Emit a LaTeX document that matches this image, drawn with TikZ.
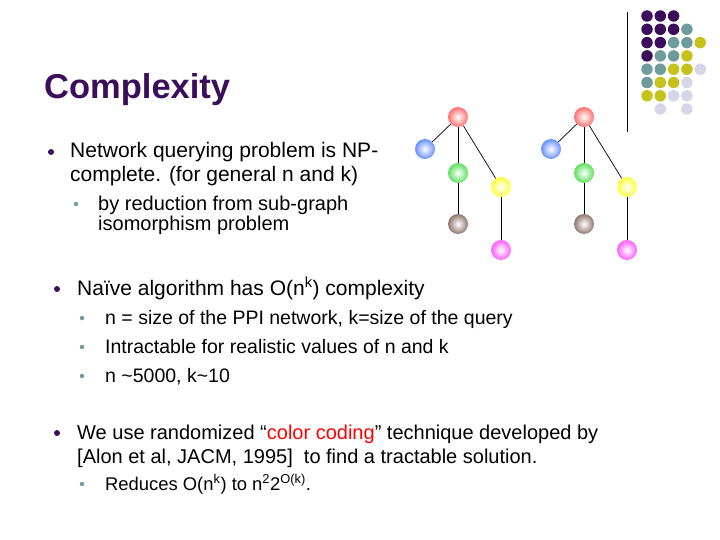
\documentclass[tikz,border=0pt]{standalone}
\usepackage{fontspec}
\setmainfont{Liberation Sans}
\definecolor{pur}{HTML}{3A0E5A}
\definecolor{tea}{HTML}{6F9B9B}
\definecolor{yel}{HTML}{C6C21C}
\definecolor{lav}{HTML}{D6D6E8}
\definecolor{cred}{HTML}{FF7070}
\definecolor{cblue}{HTML}{6A90FF}
\definecolor{cgreen}{HTML}{60E060}
\definecolor{cyel}{HTML}{FFFF40}
\definecolor{cbrown}{HTML}{907870}
\definecolor{cmag}{HTML}{FF60FF}
\begin{document}
\begin{tikzpicture}[x=1pt,y=-1pt,
  dot/.style={circle,inner sep=0pt,minimum size=11.5pt,fill=#1},
  ball/.style={circle,inner sep=0pt,minimum size=20pt,inner color=white,outer color=#1},
  t1/.style={anchor=base west,inner sep=0pt,font=\fontsize{21}{24}\selectfont,align=left},
  t2/.style={anchor=base west,inner sep=0pt,font=\fontsize{19.5}{20}\selectfont,align=left},
  b1/.style={circle,inner sep=0pt,minimum size=6pt,fill=pur},
  b2/.style={circle,inner sep=0pt,minimum size=4.5pt,fill=tea},
  edge/.style={draw,line width=0.7pt}]
\useasboundingbox (0,0) rectangle (720,540);
\node[anchor=base west,inner sep=0pt,text=pur,font=\fontsize{34.5}{38}\selectfont\bfseries] (title) at (44,99) {Complexity};
\coordinate (vl1) at (627,12); \coordinate (vl2) at (627,132);
\draw[line width=0.8pt] (vl1) -- (vl2);
% dots
\foreach \r/\row in {0/{pur,pur,pur},1/{pur,pur,pur,tea},2/{pur,pur,tea,tea,yel},3/{pur,tea,tea,yel},4/{tea,tea,yel,yel,lav},5/{tea,yel,yel,lav},6/{yel,yel,lav,lav}}{
  \foreach \c [count=\i from 0] in \row {
    \node[dot=\c] (d\r\i) at (647+13.3*\i,16+13.3*\r) {};
  }
}
\node[dot=lav] (d71) at (660.3,109) {};
\node[dot=lav] (d73) at (686.9,109) {};
% trees
\foreach \t/\dx in {a/0,b/126}{
  \node[ball=cred] (\t r) at (458+\dx,117) {};
  \node[ball=cblue] (\t b) at (425+\dx,149) {};
  \node[ball=cgreen] (\t g) at (458+\dx,173) {};
  \node[ball=cyel] (\t y) at (501+\dx,187) {};
  \node[ball=cbrown] (\t n) at (458+\dx,224) {};
  \node[ball=cmag] (\t m) at (501+\dx,250) {};
  \draw[edge] (\t r) -- (\t b);
  \draw[edge] (\t r) -- (\t g);
  \draw[edge] (\t r) -- (\t y);
  \draw[edge] (\t g) -- (\t n);
  \draw[edge] (\t y) -- (\t m);
}
% text
\node[b1] (p1) at (51,152) {};
\node[t1] (s1) at (70,182) {Network querying problem is NP-\\complete. (for general n and k)};
\node[b2] (p2) at (76,204) {};
\node[t2,font=\fontsize{20}{20}\selectfont] (s2) at (98,230) {by reduction from sub-graph\\isomorphism problem};
\node[b1] (p3) at (57,289) {};
\node[t1] (s3) at (77,295) {Naïve algorithm has O(n\textsuperscript{k}) complexity};
\node[b2] (p4) at (82,318) {};
\node[t2] (s4) at (105,324) {n = size of the PPI network, k=size of the query};
\node[b2] (p5) at (82,347) {};
\node[t2] (s5) at (105,353) {Intractable for realistic values of n and k};
\node[b2] (p6) at (82,376) {};
\node[t2] (s6) at (105,382) {n \textasciitilde5000, k\textasciitilde10};
\node[b1] (p7) at (57,433) {};
\node[t1,font=\fontsize{20}{24}\selectfont] (s7) at (77,463) {We use randomized “\textcolor{red}{color coding}” technique developed by\\{[}Alon et al, JACM, 1995]\ \ to find a tractable solution.};
\node[b2] (p8) at (82,484) {};
\node[t2,font=\fontsize{18.4}{20}\selectfont] (s8) at (105,490) {Reduces O(n\textsuperscript{k}) to n\textsuperscript{2}2\textsuperscript{O(k)}.};
\end{tikzpicture}
\end{document}
